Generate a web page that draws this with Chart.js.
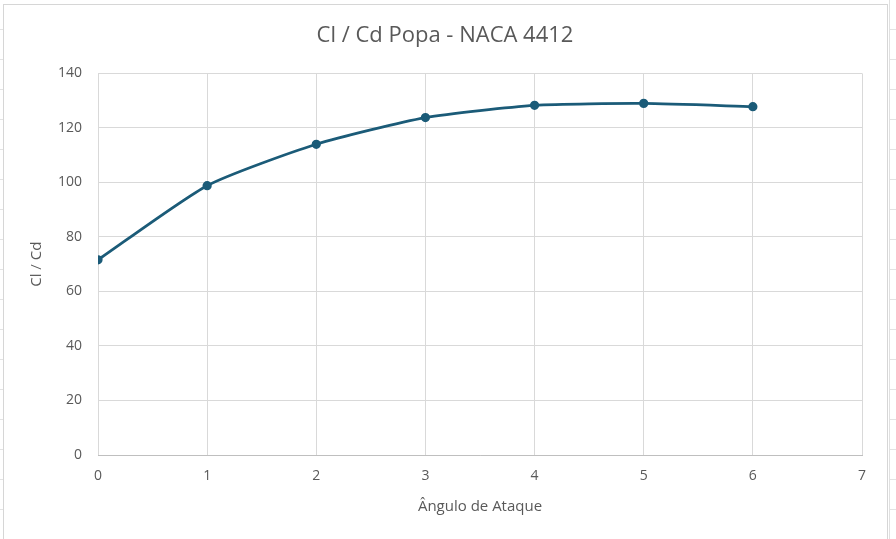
<!DOCTYPE html>
<html>
<head>
<meta charset="utf-8">
<script src="https://cdn.jsdelivr.net/npm/chart.js@4/dist/chart.umd.min.js"></script>
<style>
  html, body { margin: 0; padding: 0; width: 896px; height: 539px; overflow: hidden; background: #ffffff; }
  /* sheet cells around the chart object */
  .sheet {
    position: absolute; left: 0; top: 0; width: 896px; height: 539px;
    background:
      repeating-linear-gradient(to bottom, transparent 0 29px, #e3e3e3 29px 30px) 0 0 / 4px 539px no-repeat,
      repeating-linear-gradient(to bottom, transparent 0 29px, #e3e3e3 29px 30px) 890px 0 / 6px 539px no-repeat,
      #ffffff;
  }
  .frame {
    position: absolute; left: 3px; top: 4px; width: 883px; height: 540px;
    border-left: 1px solid #d6d6d6; border-top: 1px solid #d6d6d6; border-right: 1px solid #d6d6d6;
    background: #ffffff;
  }
  .edge { position: absolute; left: 889px; top: 0; width: 1px; height: 539px; background: #e0e0e0; }
  .wrap { position: absolute; left: 0; top: 0; width: 896px; height: 539px; }
</style>
</head>
<body>
<div class="sheet"></div>
<div class="edge"></div>
<div class="frame"></div>
<div class="wrap"><canvas id="chart"></canvas></div>
<script>
// Angle of attack (degrees) and lift/drag ratio
const anguloAtaque = [0, 1, 2, 3, 4, 5, 6];
const clCd = [71.6, 98.8, 114.0, 123.8, 128.3, 129.0, 127.8];
const yTicks = [0, 20, 40, 60, 80, 100, 120, 140];
const xTicks = [0, 1, 2, 3, 4, 5, 6, 7];

const points = anguloAtaque.map((a, i) => ({ x: a, y: clCd[i] }));

const FONT = "'Open Sans', 'Lato', sans-serif";
const GRAY = '#595959';
const GRID = '#d9d9d9';
const LINE = '#1b5b78';

new Chart(document.getElementById('chart'), {
  type: 'line',
  data: {
    datasets: [{
      label: 'Cl / Cd',
      data: points,
      borderColor: LINE,
      backgroundColor: LINE,
      borderWidth: 2.75,
      pointRadius: 3.25,
      pointHoverRadius: 3.25,
      pointBackgroundColor: LINE,
      pointBorderColor: LINE,
      tension: 0.2,
      fill: false
    }]
  },
  options: {
    responsive: true,
    maintainAspectRatio: false,
    animation: false,
    layout: { padding: { left: 4, right: 10, top: 0, bottom: 0 } },
    plugins: {
      legend: { display: false },
      tooltip: { enabled: false },
      title: {
        display: true,
        text: 'Cl / Cd Popa - NACA 4412',
        color: GRAY,
        font: { family: FONT, size: 22, weight: 'normal' },
        padding: { top: 23, bottom: 24 }
      }
    },
    scales: {
      x: {
        type: 'linear',
        min: 0, max: 7,
        afterBuildTicks: s => { s.ticks = xTicks.map(v => ({ value: v })); },
        afterFit: s => { s.height = 84; },
        ticks: { color: GRAY, font: { family: FONT, size: 14 }, padding: 13, maxRotation: 0 },
        grid: { color: GRID, lineWidth: 1, drawTicks: false },
        border: { display: true, color: '#bfbfbf', width: 1 },
        title: {
          display: true,
          text: 'Ângulo de Ataque',
          color: GRAY,
          font: { family: FONT, size: 15 },
          padding: { top: 0, bottom: 23 }
        }
      },
      y: {
        min: 0, max: 140,
        afterBuildTicks: s => { s.ticks = yTicks.map(v => ({ value: v })); },
        afterFit: s => { s.width = 94; },
        ticks: { color: GRAY, font: { family: FONT, size: 14 }, padding: 16 },
        grid: { color: GRID, lineWidth: 1, drawTicks: false },
        border: { display: false },
        title: {
          display: true,
          text: 'Cl / Cd',
          color: GRAY,
          font: { family: FONT, size: 15 },
          padding: { top: 24, bottom: 0 }
        }
      },
      spacer: {
        position: 'right',
        display: true,
        afterFit: s => { s.width = 24; },
        ticks: { display: false },
        grid: { display: false, drawTicks: false },
        border: { display: false }
      }
    }
  }
});
</script>
</body>
</html>
